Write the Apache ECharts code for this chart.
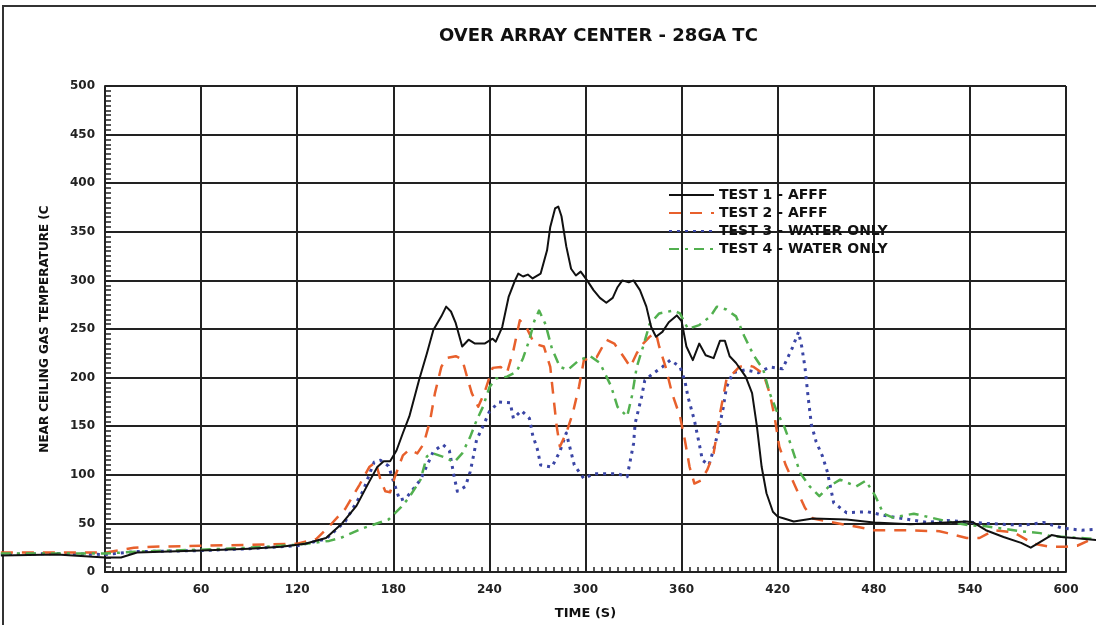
<!DOCTYPE html>
<html>
<head>
<meta charset="utf-8">
<script src="https://cdn.jsdelivr.net/npm/echarts@6/dist/echarts.min.js"></script>
<style>
html,body{margin:0;padding:0;background:#fff;}
#chart{width:1096px;height:625px;}
</style>
</head>
<body>
<div id="chart"></div>
<script>
// ---- data (time in s, temperature in C) ----
const chartTitle = 'OVER ARRAY CENTER - 28GA TC';
const xAxisName = 'TIME (S)';
const yAxisName = 'NEAR CEILING GAS TEMPERATURE (C';
const seriesNames = ['TEST 1 - AFFF', 'TEST 2 - AFFF', 'TEST 3 - WATER ONLY', 'TEST 4 - WATER ONLY'];

const test1 = [[-65,17],[-30,18],[0,15],[10,15],[20,20],[40,21],[60,22],[90,24],[110,26],[125,29],[138,35],[148,50],[157,68],[165,93],[170,108],[174,114],[178,114],[182,125],[186,143],[190,160],[196,197],[201,225],[205,249],[210,263],[213,273],[216,268],[219,256],[223,232],[227,239],[231,235],[237,235],[242,240],[244,237],[248,252],[252,283],[256,300],[258,307],[261,304],[264,306],[267,302],[272,307],[276,331],[278,355],[281,374],[283,376],[285,366],[288,335],[291,312],[294,305],[297,309],[301,300],[305,290],[309,282],[313,277],[317,282],[320,293],[323,300],[327,298],[330,300],[334,290],[338,273],[341,252],[344,242],[348,247],[352,257],[357,264],[360,258],[363,232],[367,218],[371,235],[375,223],[380,220],[384,238],[387,238],[390,222],[394,215],[400,201],[404,184],[407,150],[410,108],[413,81],[417,62],[420,57],[424,55],[430,52],[442,55],[463,54],[480,51],[503,49],[538,52],[542,51],[550,43],[561,36],[572,30],[578,25],[584,31],[591,38],[597,36],[605,35],[619,33]];

const test2 = [[-65,20],[-30,20],[0,20],[18,25],[30,26],[60,27],[90,28],[120,29],[132,34],[140,47],[150,65],[159,90],[165,108],[169,113],[172,95],[175,83],[178,82],[181,98],[186,120],[190,126],[195,122],[199,132],[203,156],[206,184],[210,211],[213,220],[219,222],[223,219],[226,201],[229,184],[233,170],[237,185],[242,210],[247,211],[251,205],[255,228],[259,259],[263,252],[268,235],[274,232],[278,211],[280,180],[282,150],[284,129],[288,143],[292,163],[296,191],[299,218],[303,220],[307,221],[313,239],[318,235],[324,221],[328,211],[332,225],[336,235],[340,242],[344,246],[346,232],[350,211],[354,184],[359,160],[362,136],[365,108],[368,91],[372,94],[376,105],[380,122],[384,163],[388,198],[392,204],[396,211],[401,213],[405,211],[411,204],[415,184],[418,160],[421,129],[425,110],[431,88],[437,66],[442,55],[451,52],[471,46],[480,43],[496,43],[521,42],[526,40],[538,35],[546,35],[555,43],[567,41],[580,29],[590,26],[600,26],[607,27],[615,33],[619,34]];

const test3 = [[-65,18],[-30,19],[0,18],[20,21],[60,22],[90,24],[120,27],[138,34],[150,52],[161,83],[168,113],[172,115],[177,109],[184,74],[188,76],[197,95],[205,124],[211,131],[215,125],[218,98],[220,83],[225,88],[228,103],[230,119],[232,136],[236,150],[240,165],[246,175],[253,174],[255,158],[260,166],[265,158],[267,141],[270,126],[272,110],[279,108],[284,124],[288,143],[293,110],[299,96],[305,101],[311,101],[320,101],[326,98],[330,132],[331,153],[335,180],[337,197],[342,204],[348,211],[353,218],[359,211],[362,197],[364,180],[368,156],[371,132],[373,115],[377,110],[380,126],[383,145],[386,169],[388,190],[392,205],[400,208],[408,205],[415,211],[423,209],[429,230],[433,247],[435,232],[437,211],[439,180],[441,152],[444,134],[448,119],[451,103],[455,71],[463,61],[476,62],[490,57],[513,51],[526,53],[550,50],[573,48],[586,51],[598,45],[610,43],[619,44]];

const test4 = [[-65,19],[-30,19],[0,19],[20,21],[60,23],[90,25],[120,28],[140,32],[147,35],[161,45],[177,54],[185,67],[190,77],[197,95],[201,119],[205,122],[212,118],[218,113],[223,122],[228,139],[232,156],[236,170],[240,190],[244,199],[251,201],[257,206],[261,220],[265,239],[268,258],[271,269],[275,255],[279,230],[284,211],[289,208],[296,218],[303,222],[309,215],[316,191],[320,170],[326,160],[329,181],[332,211],[336,232],[340,255],[346,266],[355,269],[359,266],[364,250],[371,254],[378,263],[382,273],[388,270],[394,263],[399,243],[405,223],[411,208],[415,184],[420,163],[424,150],[428,132],[434,102],[440,88],[446,78],[452,88],[459,95],[469,88],[475,94],[481,78],[486,60],[492,56],[505,60],[526,52],[540,48],[550,47],[563,44],[571,42],[584,40],[590,37],[609,35],[619,34]];

const xTickInterval = 60;
const yTickInterval = 50;

// ---- chart ----
const FONT = '"DejaVu Sans", sans-serif';
const chart = echarts.init(document.getElementById('chart'), null, {renderer: 'canvas'});

// Plot frame in pixels; the traces run past the frame on both sides, as in the source figure.
const PLOT_L = 105, PLOT_R = 1066, W = 1096;
const pxPerSec = (PLOT_R - PLOT_L) / 600;
const extMin = -PLOT_L / pxPerSec;            // time at left page edge
const extMax = 600 + (W - PLOT_R) / pxPerSec; // time at right page edge

function lineSeries(name, data, color, type, width, z) {
  return {
    name: name, type: 'line', data: data,
    xAxisIndex: 1, yAxisIndex: 1,
    showSymbol: false, symbol: 'none', clip: false, z: z,
    lineStyle: {color: color, width: width, type: type, cap: 'butt', join: 'round'},
    itemStyle: {color: color},
    emphasis: {disabled: true}
  };
}

const option = {
  animation: false,
  backgroundColor: '#fff',
  title: {
    text: chartTitle,
    left: 434, top: 22,
    textStyle: {fontFamily: FONT, fontSize: 18, fontWeight: 'bold', color: '#111'}
  },
  grid: [
    {left: PLOT_L, right: W - PLOT_R, top: 86, bottom: 53, containLabel: false},
    {left: 0, right: 0, top: 86, bottom: 53, containLabel: false}
  ],
  legend: {
    orient: 'vertical', left: 668, top: 188, padding: 0,
    itemWidth: 45, itemHeight: 14, itemGap: 4,
    data: seriesNames,
    itemStyle: {opacity: 0},
    textStyle: {fontFamily: FONT, fontSize: 14, fontWeight: 'bold', color: '#111'},
    selectedMode: false
  },
  xAxis: [{
    type: 'value', gridIndex: 0, min: 0, max: 600, interval: xTickInterval,
    name: xAxisName, nameLocation: 'middle', nameGap: 35,
    nameTextStyle: {fontFamily: FONT, fontSize: 13, fontWeight: 'bold', color: '#111'},
    axisLine: {show: true, lineStyle: {color: '#222', width: 2}},
    axisTick: {show: true, inside: true, length: 6, lineStyle: {color: '#222', width: 1.5}},
    minorTick: {show: true, splitNumber: 12, length: 5, lineStyle: {color: '#222', width: 1.5}},
    axisLabel: {fontFamily: FONT, fontSize: 12, fontWeight: 'bold', color: '#222', margin: 12},
    splitLine: {show: true, lineStyle: {color: '#222', width: 2}}
  }, {
    type: 'value', gridIndex: 1, min: extMin, max: extMax, show: false
  }],
  yAxis: [{
    type: 'value', gridIndex: 0, min: 0, max: 500, interval: yTickInterval,
    name: yAxisName, nameLocation: 'middle', nameGap: 54, nameRotate: 90,
    nameTextStyle: {fontFamily: FONT, fontSize: 12, fontWeight: 'bold', color: '#111'},
    axisLine: {show: true, lineStyle: {color: '#222', width: 2}},
    axisTick: {show: true, inside: true, length: 7, lineStyle: {color: '#222', width: 1.5}},
    minorTick: {show: true, splitNumber: 10, length: 6, lineStyle: {color: '#222', width: 1.5}},
    axisLabel: {fontFamily: FONT, fontSize: 12, fontWeight: 'bold', color: '#222', margin: 10},
    splitLine: {show: true, lineStyle: {color: '#222', width: 2}}
  }, {
    type: 'value', gridIndex: 1, min: 0, max: 500, show: false
  }],
  graphic: [{
    type: 'polyline', silent: true,
    shape: {points: [[3, 625], [3, 6], [1096, 6]]},
    style: {stroke: '#333', lineWidth: 2, fill: null}
  }],
  series: [
    lineSeries(seriesNames[0], test1, '#111111', 'solid', 2, 5),
    lineSeries(seriesNames[1], test2, '#e8602c', [12, 9], 2.5, 3),
    lineSeries(seriesNames[2], test3, '#3a45a5', [3, 5], 3, 2),
    lineSeries(seriesNames[3], test4, '#52b04f', [10, 6, 3, 6], 2.5, 4)
  ]
};
chart.setOption(option);
</script>
</body>
</html>
